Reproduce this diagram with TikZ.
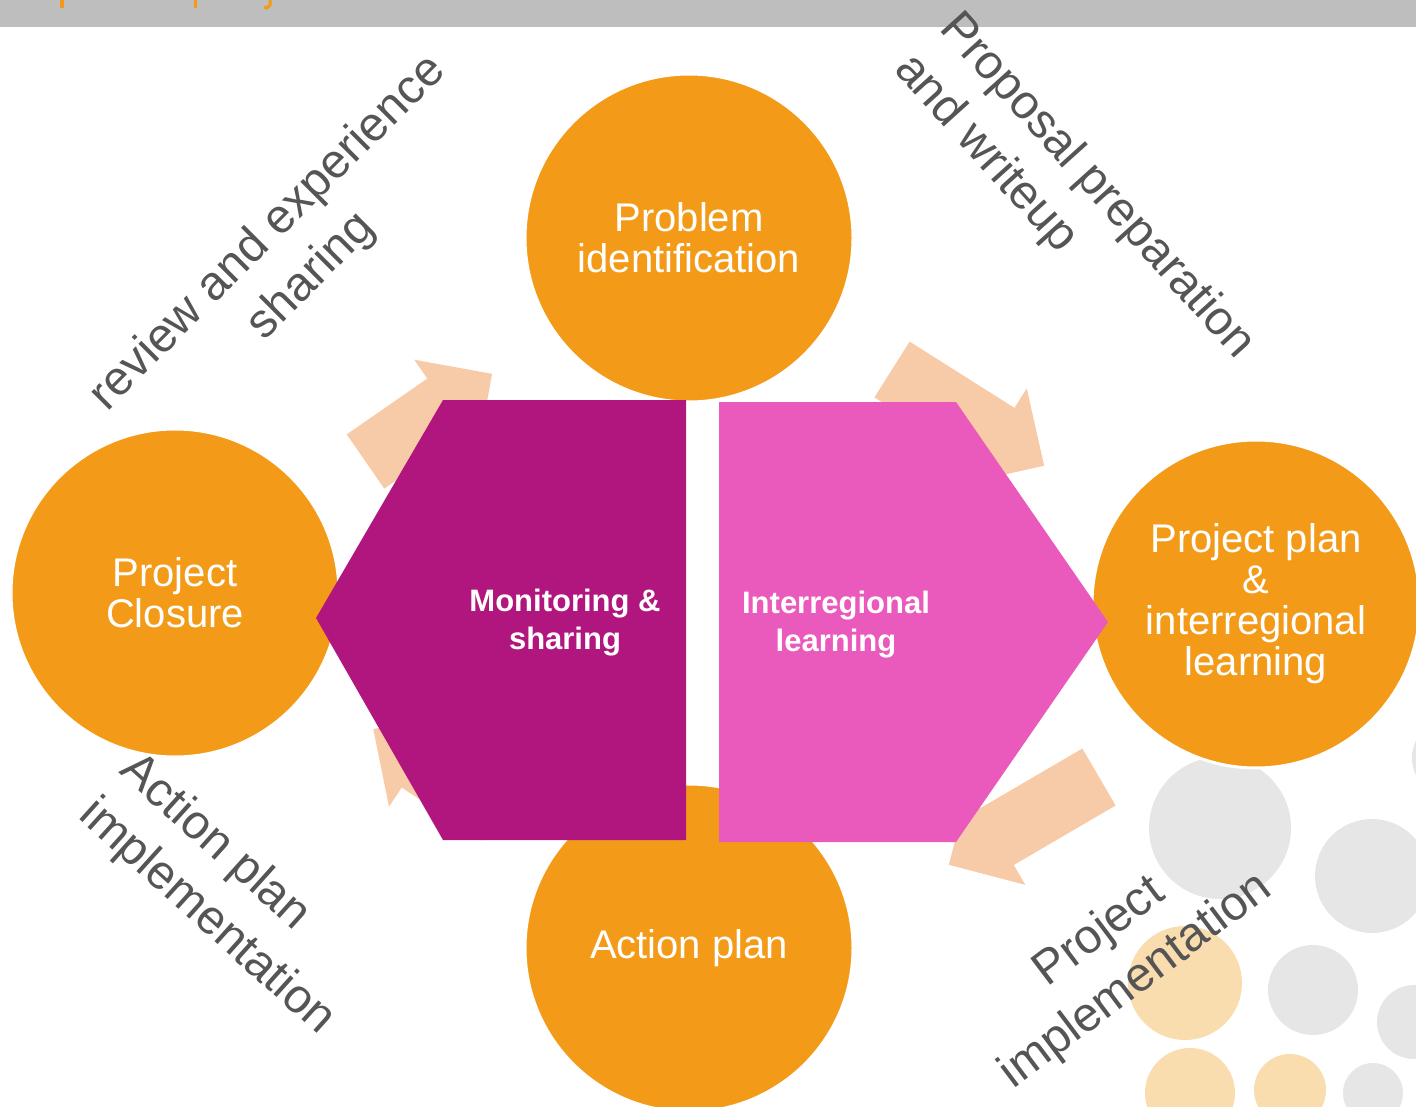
\documentclass[tikz,border=0pt]{standalone}
\usepackage{fontspec}
\setmainfont{Liberation Sans}

\definecolor{stageorange}{RGB}{243,155,24}
\definecolor{monmagenta}{RGB}{177,22,126}
\definecolor{learnpink}{RGB}{234,90,188}
\definecolor{arrowpeach}{RGB}{248,203,168}
\definecolor{bandgray}{RGB}{190,190,190}
\definecolor{labelgray}{RGB}{85,85,85}
\definecolor{dotgray}{RGB}{230,230,230}
\definecolor{dotorange}{RGB}{250,221,174}

% block arrow: #1 tail middle, #2 angle, #3 length
\newcommand{\cyclearrow}[3]{%
\begin{scope}[shift={#1}, rotate=#2]
\fill[arrowpeach] (0,-33) -- ({#3-56},-33) -- ({#3-56},-56) -- (#3,0) -- ({#3-56},56) -- ({#3-56},33) -- (0,33) -- cycle;
\end{scope}}

\begin{document}
\begin{tikzpicture}[x=1pt, y=-1pt,
  stage/.style={circle, fill=stageorange, draw=white, line width=3pt, minimum size=328pt,
    inner sep=0pt, text=white, align=center, font=\fontsize{40}{41}\selectfont},
  hextext/.style={text=white, align=center, font=\fontsize{31}{38}\selectfont\bfseries},
  phase/.style={text=labelgray, font=\fontsize{48}{61}\selectfont}]
\useasboundingbox (0,0) rectangle (1416,1107);
\clip (0,0) rectangle (1416,1107);

% title band
\fill[bandgray] (0,0) rectangle (1416,27);
\fill[stageorange] (60,0) rectangle (64,8);
\fill[stageorange] (194,0) rectangle (197,8);
\draw[stageorange, line width=3pt] (270,0) -- (270,5) -- (267,8) -- (264,7);

% background dots
\fill[dotgray] (1220,828) circle (71);
\fill[dotgray] (1372,876) circle (57);
\fill[dotgray] (1313,990) circle (45);
\fill[dotgray] (1414,1022) circle (37);
\fill[dotgray] (1373,1093) circle (30);
\fill[dotgray] (1452,758) circle (40);
\fill[dotorange] (1185,983) circle (57);
\fill[dotorange] (1190,1093) circle (45);
\fill[dotorange] (1290,1090) circle (36);

% arrows between stages
\cyclearrow{(365.5,461.5)}{34.7}{154}
\cyclearrow{(892,369.5)}{-32.3}{180}
\cyclearrow{(1099,777)}{210.3}{174}
\cyclearrow{(500,813)}{146.5}{152}

% stages
\node[stage] (problem) at (689,238) {Problem\\identification};
\node[stage] (closure) at (175,593) {Project\\Closure};
\node[stage] (plan) at (1256,604) {Project plan\\\&\\interregional\\learning};
\node[stage] (action) at (689,948) {Action plan};

% centre hexagon halves
\fill[monmagenta] (443,400) -- (686,400) -- (686,840) -- (443,840) -- (316,618) -- cycle;
\fill[learnpink] (719,402) -- (956,402) -- (1108,622) -- (956,842) -- (719,842) -- cycle;
\node[hextext] (monitor) at (565,623) {Monitoring \&\\sharing};
\node[hextext] (learn) at (836,625) {Interregional\\learning};

% phase labels
\node[phase, rotate=45, align=center] (review) at (290,255) {review and experience\\sharing};
\node[phase, rotate=-48, align=left] (proposal) at (1074,207) {Proposal preparation\\and writeup};
\node[phase, rotate=-42, align=left] (actimpl) at (227,895) {Action plan\\implementation};
\node[phase, rotate=37, align=center] (projimpl) at (1118,957) {Project\\implementation};
\end{tikzpicture}
\end{document}
